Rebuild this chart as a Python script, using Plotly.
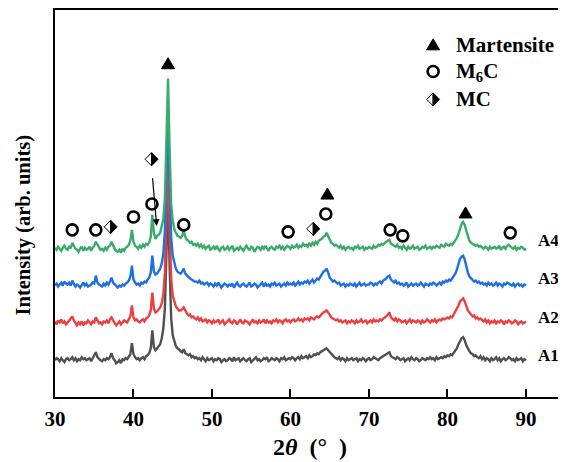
import plotly.graph_objects as go

# ---------------- data ----------------
THETA_START = 30.0
THETA_STEP = 0.2
N_POINTS = 301
THETA = [round(THETA_START + THETA_STEP * i, 1) for i in range(N_POINTS)]

SAMPLES = ["A1", "A2", "A3", "A4"]
OFFSETS = [37, 75, 112, 149]   # vertical stacking offsets (arb. units)

A1 = [
    0, 2, 1, -1, 2, 0, -2, 1, 2, 0,
    1, 3, 0, 2, -1, 1, 0, 3, 1, 2,
    0, 1, 2, -1, 2, 4, 8, 3, 1, 0,
    -1, 1, 0, 2, 1, 3, 7, 2, 0, -3,
    -2, 0, -3, 1, 0, 2, 1, 3, 6, 17,
    6, 3, 1, 2, 0, 2, 3, 1, 4, 5,
    7, 12, 30, 13, 10, 12, 14, 16, 22, 32,
    52, 105, 165, 95, 42, 25, 18, 14, 12, 11,
    9, 8, 11, 7, 6, 5, 6, 3, 4, 2,
    3, 1, 2, 0, 3, 1, -1, 2, 0, 1,
    2, -1, 1, 0, 2, 1, -2, 0, 1, -1,
    0, 2, 1, -1, 3, 0, 1, 2, -1, 1,
    2, 0, -1, 1, 2, -2, 0, 1, 3, 0,
    1, -1, 0, 2, 1, 3, -1, 0, 2, 1,
    0, 2, 1, -1, 2, 1, 3, 0, 1, 2,
    1, 3, 2, 0, 2, 3, 1, 4, 2, 3,
    4, 2, 5, 3, 4, 6, 5, 7, 6, 8,
    9, 10, 11, 12, 10, 8, 6, 4, 3, 2,
    1, 3, 0, 2, 1, -1, 2, 0, 1, 2,
    0, 1, 2, -1, 1, 0, 2, 1, -1, 1,
    2, 0, 1, 3, 2, 1, 0, 2, 3, 4,
    5, 6, 7, 8, 4, 3, 2, 1, 3, 2,
    0, 1, 2, -1, 1, 2, 0, 3, 1, 0,
    2, 1, -1, 0, 2, 1, 0, 2, 1, 3,
    1, 2, 0, 3, 1, 2, 3, 2, 4, 3,
    5, 4, 6, 5, 7, 9, 12, 16, 20, 22,
    23, 20, 15, 11, 9, 7, 6, 4, 5, 3,
    2, 4, 1, 3, 0, 2, 1, -1, 2, 0,
    1, 3, 0, 2, -1, 1, 2, 0, 1, 3,
    2, 0, 1, -1, 2, 0, 1, 2, -1, 1,
    0,
]

A2 = [
    1, -2, 2, 0, 3, -1, 1, -2, 0, 2,
    4, 6, 2, -1, -3, 0, -2, 1, -3, 0,
    -1, 2, 0, -2, 1, 0, 5, 2, -1, 0,
    -2, 1, 0, 2, -1, 3, 5, 2, 0, -3,
    -1, 1, -2, 0, 2, 1, 0, 3, 6, 17,
    5, 2, 3, 1, 0, 2, 3, 1, 4, 5,
    7, 12, 30, 14, 10, 11, 13, 15, 19, 28,
    50, 108, 172, 98, 44, 27, 20, 16, 14, 12,
    12, 13, 15, 11, 9, 7, 8, 5, 6, 4,
    3, 5, 2, 4, 1, 2, 3, 0, 2, 1,
    -1, 2, 0, 1, 3, -1, 1, 2, -2, 0,
    1, 3, 0, -1, 2, 1, -2, 1, 3, 0,
    -1, 2, 1, 0, -2, 1, 3, 0, 1, -1,
    2, 0, 1, 3, -1, 2, 0, 1, -1, 2,
    1, 3, 0, 2, 1, -1, 2, 3, 1, 2,
    0, 2, 3, 1, 2, 4, 2, 3, 1, 4,
    3, 4, 2, 5, 4, 3, 5, 6, 5, 7,
    8, 10, 11, 12, 10, 7, 5, 4, 3, 2,
    3, 1, 2, 0, 1, 2, -1, 1, 0, 2,
    1, -1, 2, 0, 1, 3, 0, 1, 2, -1,
    1, 2, 0, 3, 1, 2, 1, 3, 2, 4,
    5, 6, 8, 10, 5, 3, 2, 4, 1, 3,
    2, 0, 1, 2, -1, 1, 3, 0, 2, 1,
    0, 2, 1, -1, 2, 0, 1, 3, 1, 0,
    2, 1, 3, 0, 2, 3, 2, 4, 3, 4,
    5, 4, 6, 5, 8, 10, 13, 17, 21, 23,
    24, 21, 16, 12, 10, 8, 6, 7, 4, 5,
    3, 4, 2, 1, 3, 0, 2, -1, 1, 0,
    2, -1, 1, 0, 2, 1, -2, 1, 0, 2,
    1, -1, 0, 2, 1, -2, 0, 1, -1, 0,
    1,
]

A3 = [
    0, 2, -1, 1, 3, 0, 4, 2, 1, 3,
    0, 5, 2, -1, 1, 0, -2, 1, 3, 0,
    2, -1, 0, 1, 3, 2, 10, 3, 1, 0,
    -1, 2, 0, 3, 1, 4, 8, 3, 1, 0,
    -2, 0, -1, 1, 0, 2, 3, 5, 9, 20,
    6, 3, 1, 2, 0, 3, 2, 4, 3, 6,
    8, 13, 30, 14, 11, 12, 15, 17, 22, 32,
    55, 115, 180, 105, 48, 30, 22, 17, 14, 13,
    12, 14, 17, 12, 10, 8, 7, 6, 5, 4,
    4, 3, 5, 2, 3, 1, 2, 3, 0, 2,
    1, -1, 2, 0, 3, 1, -2, 0, 2, 1,
    -1, 1, 0, 2, -2, 1, 3, 0, -1, 1,
    2, 0, -1, 1, 3, -1, 0, 2, 1, -2,
    0, 1, 3, -1, 2, 0, 1, -1, 2, 1,
    3, 0, 1, 2, -1, 1, 2, 0, 3, 1,
    2, 1, 3, 0, 2, 4, 1, 3, 2, 4,
    3, 5, 2, 4, 6, 3, 5, 7, 6, 9,
    11, 14, 15, 17, 13, 8, 6, 4, 5, 3,
    2, 3, 0, 1, 2, -1, 1, 0, 2, 1,
    0, 2, -1, 1, 3, 0, 1, 2, 0, 1,
    1, 3, 2, 0, 2, 1, 3, 4, 2, 5,
    6, 7, 9, 10, 6, 4, 3, 5, 2, 3,
    1, 2, 0, 1, 3, -1, 1, 2, 0, 1,
    2, 0, 1, 3, 1, -1, 2, 1, 0, 2,
    1, 3, 2, 0, 2, 3, 1, 4, 3, 5,
    4, 6, 5, 7, 9, 12, 16, 22, 27, 29,
    30, 26, 19, 13, 9, 7, 6, 4, 5, 3,
    4, 2, 3, 1, 2, 0, 3, 1, 2, 0,
    1, 3, 0, 2, 1, -1, 2, 1, 3, 2,
    1, 0, 2, -1, 1, 2, 0, 1, -1, 1,
    0,
]

A4 = [
    1, -1, 2, 0, -2, 1, 3, 0, -1, 2,
    1, 6, 3, 0, -1, -3, 0, 2, -2, 1,
    -1, 0, 2, -2, 1, 3, 7, 4, 1, -1,
    0, -2, 1, -1, 2, 3, 7, 3, 0, -2,
    -3, -1, -4, 0, -2, 1, 2, 4, 8, 19,
    7, 3, 2, 0, 3, 1, 4, 2, 5, 4,
    6, 12, 34, 16, 10, 13, 14, 16, 22, 30,
    50, 110, 171, 100, 45, 28, 20, 16, 13, 12,
    11, 13, 18, 12, 9, 8, 6, 7, 4, 5,
    3, 5, 2, 4, 1, 3, 0, 2, 3, -1,
    1, 2, -1, 3, 0, -2, 1, 2, -1, 0,
    2, -1, 1, 3, -2, 0, 1, -1, 2, 0,
    -2, 1, 3, 0, -1, 2, 1, -3, 0, 2,
    1, -1, 2, 0, 3, 1, -2, 1, 2, 0,
    -1, 2, 1, 3, 0, 2, -1, 1, 3, 2,
    0, 3, 1, 2, 4, 1, 3, 2, 5, 3,
    4, 2, 5, 3, 6, 4, 7, 5, 8, 9,
    10, 12, 13, 16, 12, 9, 6, 5, 3, 4,
    2, 1, 3, 0, 2, -1, 1, 2, 0, 1,
    -1, 2, 1, 3, 0, 1, 2, -1, 1, 0,
    2, 1, 0, 3, 1, 2, 4, 3, 5, 4,
    6, 7, 8, 9, 5, 4, 3, 2, 4, 1,
    2, 0, 3, 1, -1, 2, 0, 1, 3, 0,
    1, 2, -1, 0, 2, 1, 3, 0, 1, 2,
    0, 2, 1, 3, 2, 1, 4, 3, 2, 5,
    4, 3, 5, 4, 6, 8, 11, 15, 21, 25,
    27, 24, 18, 12, 8, 6, 5, 4, 3, 4,
    2, 3, 1, 0, 2, 1, -1, 2, 0, 1,
    2, 0, 1, 3, -1, 1, 2, 0, 3, 4,
    2, 1, 0, 2, -1, 1, 0, 2, 1, -1,
    0,
]

# phase markers (2theta, height in plot units)
MARTENSITE_X = [44.4, 64.7, 82.3]
MARTENSITE_Y = [335, 204, 185]
M6C_X = [32.2, 35.2, 40.0, 42.35, 46.4, 59.7, 64.5, 72.7, 74.3, 88.0]
M6C_Y = [168, 168, 181, 194, 173, 166, 184, 168, 162, 165]
MC_X = [37.1, 42.3, 62.9]
MC_Y = [171, 239, 169]

COLORS = ["#505050", "#ee3f3f", "#1f6fe2", "#3aac6a"]
FONT = "Liberation Serif"

fig = go.Figure()
for name, vals, off, col in zip(SAMPLES, [A1, A2, A3, A4], OFFSETS, COLORS):
    fig.add_trace(go.Scatter(
        x=THETA, y=[v + off for v in vals], mode="lines", name=name,
        line=dict(color=col, width=2.4), hoverinfo="skip"))

# M6C open circles
fig.add_trace(go.Scatter(
    x=M6C_X, y=M6C_Y, mode="markers",
    marker=dict(symbol="circle-open", size=11, color="black", line=dict(width=2.6, color="black")),
    hoverinfo="skip"))

shapes = []
TRI_PATH = "M -6.5 -5 L 6.5 -5 L 0 6 Z"
DIA_L = "M 0 6.5 L -6.5 0 L 0 -6.5 Z"
DIA_R = "M 0 6.5 L 6.5 0 L 0 -6.5 Z"


def tri(xa, ya, xref="x", yref="y"):
    return dict(type="path", xref=xref, yref=yref, xsizemode="pixel", ysizemode="pixel",
                xanchor=xa, yanchor=ya, path=TRI_PATH, fillcolor="black",
                line=dict(color="black", width=1))


def dia(xa, ya, xref="x", yref="y"):
    return [dict(type="path", xref=xref, yref=yref, xsizemode="pixel", ysizemode="pixel",
                 xanchor=xa, yanchor=ya, path=DIA_L, fillcolor="white",
                 line=dict(color="black", width=1)),
            dict(type="path", xref=xref, yref=yref, xsizemode="pixel", ysizemode="pixel",
                 xanchor=xa, yanchor=ya, path=DIA_R, fillcolor="black",
                 line=dict(color="black", width=1))]


for xa, ya in zip(MARTENSITE_X, MARTENSITE_Y):
    shapes.append(tri(xa, ya))
for xa, ya in zip(MC_X, MC_Y):
    shapes.extend(dia(xa, ya))

# legend (paper coords)
LEG_X = 0.740
LEG_TXT_X = 0.780
LEG_Y = [0.910, 0.841, 0.769]
shapes.append(tri(LEG_X, LEG_Y[0], "paper", "paper"))
shapes.append(dict(type="circle", xref="paper", yref="paper", xsizemode="pixel", ysizemode="pixel",
                   xanchor=LEG_X, yanchor=LEG_Y[1], x0=-5.5, x1=5.5, y0=-5.5, y1=5.5,
                   line=dict(color="black", width=2.6), fillcolor="rgba(0,0,0,0)"))
shapes.extend(dia(LEG_X, LEG_Y[2], "paper", "paper"))

annotations = []
for txt, ly in zip(["Martensite", "M<sub>6</sub>C", "MC"], LEG_Y):
    annotations.append(dict(x=LEG_TXT_X, y=ly, xref="paper", yref="paper", text="<b>" + txt + "</b>",
                            showarrow=False, xanchor="left", yanchor="middle",
                            font=dict(family=FONT, size=21, color="black")))

# sample labels
LABEL_X = 91.3
LABEL_Y = [42, 80, 119, 157]
for name, ly in zip(SAMPLES, LABEL_Y):
    annotations.append(dict(x=LABEL_X, y=ly, xref="x", yref="y", text="<b>" + name + "</b>",
                            showarrow=False, xanchor="left", yanchor="middle",
                            font=dict(family=FONT, size=17, color="black")))

# arrow from MC marker to the MC reflection
annotations.append(dict(x=42.95, y=172, ax=42.32, ay=230, xref="x", yref="y", axref="x", ayref="y",
                        text=" ", showarrow=True, arrowhead=2, arrowsize=1.1, arrowwidth=1.2,
                        arrowcolor="black"))

# axis titles
annotations.append(dict(x=-0.062, y=0.444, xref="paper", yref="paper", xanchor="center",
                        yanchor="middle",
                        text="<b>Intensity (arb. units)</b>", textangle=-90, showarrow=False,
                        font=dict(family=FONT, size=20.5, color="black")))
annotations.append(dict(x=0.499, y=-0.128, xref="paper", yref="paper",
                        text="<b>2<i>θ</i>  (°  )</b>", showarrow=False, yanchor="middle",
                        font=dict(family=FONT, size=24, color="black")))

# The page body has an 8 px margin, so the figure is sized to fit the window.
fig.update_layout(
    width=558, height=454,
    margin=dict(l=47, r=0, t=0, b=65),
    plot_bgcolor="white", paper_bgcolor="white",
    showlegend=False,
    shapes=shapes, annotations=annotations,
    xaxis=dict(range=[30, 95.1], tickvals=[30, 40, 50, 60, 70, 80, 90],
               ticks="inside", ticklen=8, tickwidth=2, tickcolor="black",
               showline=True, linewidth=2, linecolor="black", mirror=True,
               showgrid=False, zeroline=False, ticklabelstandoff=2,
               tickfont=dict(family=FONT, size=21, color="black", weight="bold")),
    yaxis=dict(range=[0, 389], showline=True, linewidth=2, linecolor="black",
               showticklabels=False, ticks="", showgrid=False, zeroline=False),
)

fig.write_html("out.html")
